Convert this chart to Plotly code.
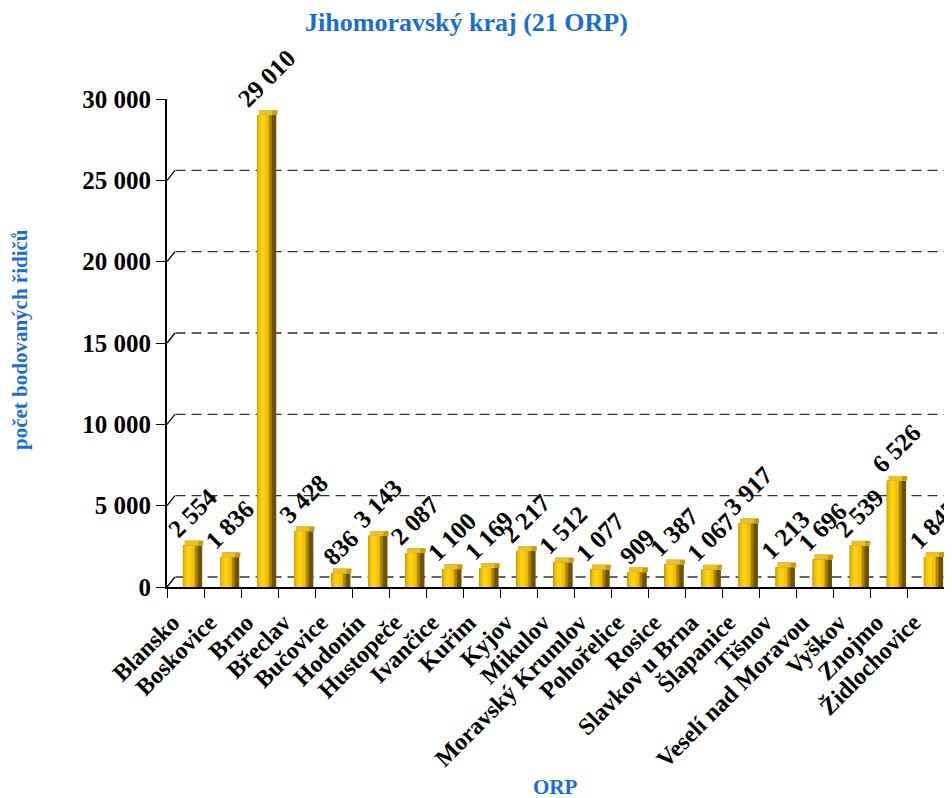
import plotly.graph_objects as go

categories = ["Blansko", "Boskovice", "Brno", "Břeclav", "Bučovice", "Hodonín", "Hustopeče",
              "Ivančice", "Kuřim", "Kyjov", "Mikulov", "Moravský Krumlov", "Pohořelice", "Rosice",
              "Slavkov u Brna", "Šlapanice", "Tišnov", "Veselí nad Moravou", "Vyškov", "Znojmo",
              "Židlochovice"]
values = [2554, 1836, 29010, 3428, 836, 3143, 2087, 1100, 1169, 2217, 1512, 1077, 909, 1387,
          1067, 3917, 1213, 1696, 2539, 6526, 1845]
y_ticks = [0, 5000, 10000, 15000, 20000, 25000, 30000]

FONT = "Liberation Serif"
BLUE = "#1a6ed1"

W, H = 944, 790
L_M, R_M, T_M, B_M = 159, 7, 91, 211
PW, PH = W - L_M - R_M, H - T_M - B_M

fig = go.Figure()

# cylinder-like bars built from overlaid layers (dark side, body, highlight)
layers = [
    dict(offset=-0.07, width=0.52, color="#6e5200"),
    dict(offset=-0.07, width=0.40, color="#a88000"),
    dict(offset=-0.07, width=0.33, color="#dcaa00"),
    dict(offset=-0.03, width=0.26, color="#f4c300"),
    dict(offset=0.03, width=0.12, color="#ffd21a"),
]
for i, Ly in enumerate(layers):
    fig.add_trace(go.Bar(
        x=categories, y=values,
        offset=Ly["offset"], width=Ly["width"],
        marker=dict(color=Ly["color"], line=dict(width=0)),
        text=[f"{v:,}".replace(",", " ") for v in values] if i == 0 else None,
        textposition="outside" if i == 0 else "none",
        textangle=-45,
        textfont=dict(family=FONT, size=25, color="black", weight="bold"),
        constraintext="none",
        cliponaxis=False,
        hoverinfo="skip" if i else None,
        showlegend=False,
    ))

# top cap of the cylinders
fig.add_trace(go.Bar(
    x=categories, y=[300] * len(values), base=values,
    offset=-0.02, width=0.5,
    marker=dict(color="#c99d00", line=dict(width=0)),
    hoverinfo="skip", showlegend=False, cliponaxis=False,
))
fig.add_trace(go.Bar(
    x=categories, y=[300] * len(values), base=values,
    offset=-0.02, width=0.36,
    marker=dict(color="#e8c030", line=dict(width=0)),
    hoverinfo="skip", showlegend=False, cliponaxis=False,
))

shapes = []
for v in y_ticks:
    # dashed "back wall" gridline shifted up/right
    shapes.append(dict(type="line", xref="paper", yref="y",
                       x0=0.011, x1=1.0, y0=10, y1=10, yanchor=v, ysizemode="pixel",
                       line=dict(color="#333333", width=1.3, dash="10px,6px"), layer="below"))
    # diagonal connector from axis tick to gridline
    shapes.append(dict(type="line", xref="paper", yref="y",
                       xsizemode="pixel", xanchor=0, x0=0, x1=8,
                       ysizemode="pixel", yanchor=v, y0=0, y1=10,
                       line=dict(color="black", width=1.3)))

fig.update_layout(
    width=W, height=H,
    margin=dict(l=L_M, r=R_M, t=T_M, b=B_M, autoexpand=False),
    paper_bgcolor="white", plot_bgcolor="white",
    separators=", ",
    barmode="overlay",
    shapes=shapes,
    title=dict(text="Jihomoravský kraj (21 ORP)", x=458.5 / W, xanchor="center",
               y=1 - 14 / H, yanchor="middle",
               font=dict(family=FONT, size=26, color=BLUE, weight="bold")),
    xaxis=dict(
        type="category", range=[-0.5, 20.5],
        tickangle=-45, tickson="boundaries",
        ticks="outside", ticklen=9, tickcolor="black", tickwidth=1.3,
        ticklabelshift=-13, ticklabelstandoff=10,
        showline=True, linecolor="black", linewidth=2,
        showgrid=False, automargin=False,
        tickfont=dict(family=FONT, size=24, color="black", weight="bold"),
    ),
    yaxis=dict(
        range=[0, 30000], tickvals=y_ticks, tickformat=",d",
        ticks="outside", ticklen=9, tickcolor="black", tickwidth=1.3,
        showline=True, linecolor="black", linewidth=2,
        showgrid=False, zeroline=False, automargin=False,
        tickfont=dict(family=FONT, size=25, color="black", weight="bold"),
    ),
    annotations=[
        dict(text="počet bodovaných řidičů", xref="paper", yref="paper",
             x=(12 - L_M) / PW, y=1 - (332 - T_M) / PH, xanchor="center", yanchor="middle",
             textangle=-90, showarrow=False,
             font=dict(family=FONT, size=21, color=BLUE, weight="bold")),
        dict(text="ORP", xref="paper", yref="paper",
             x=(547 - L_M) / PW, y=-(779 - (H - B_M)) / PH, xanchor="center", yanchor="middle",
             showarrow=False,
             font=dict(family=FONT, size=21, color=BLUE, weight="bold")),
    ],
)

fig.write_html("out.html")
